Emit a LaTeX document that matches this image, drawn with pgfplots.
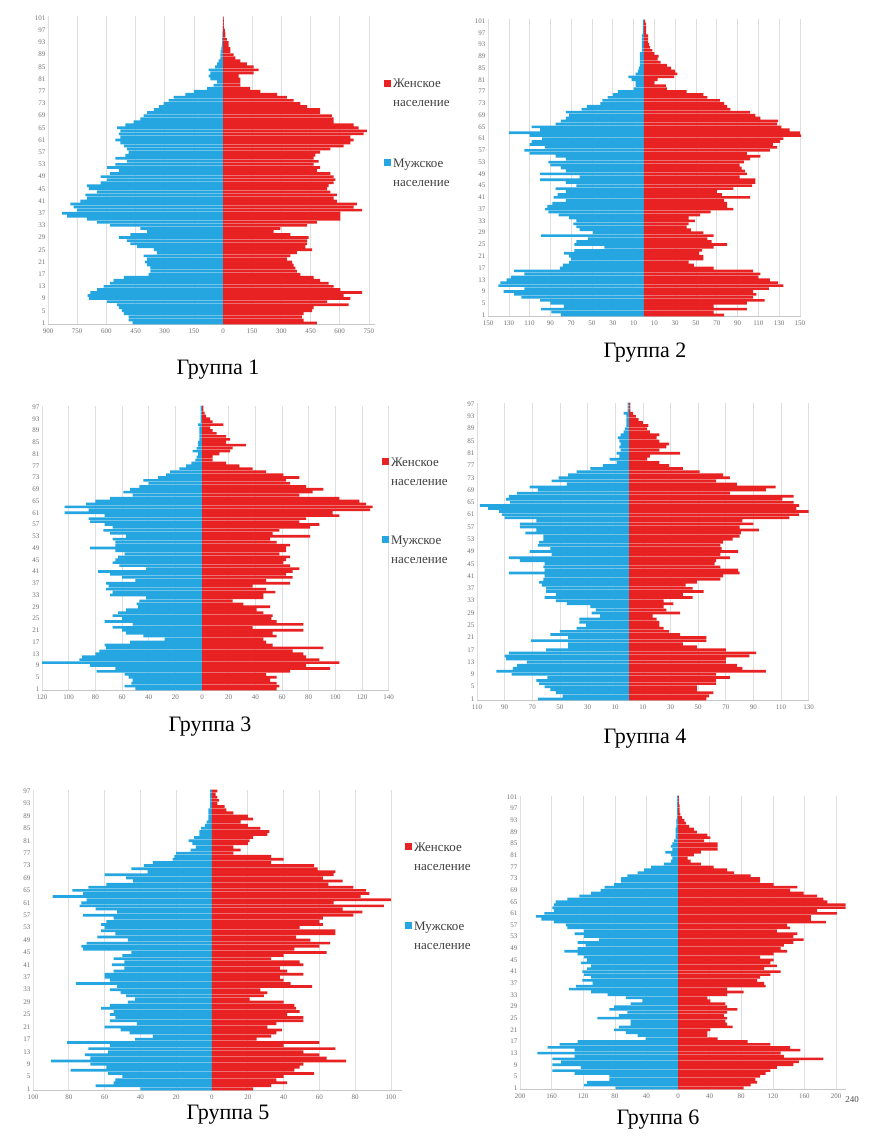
\documentclass[border=0pt]{standalone}
\usepackage{fontspec}
\setmainfont{Liberation Serif}
\usepackage{pgfplots}
\usepackage{pgfplotstable}
\pgfplotsset{compat=1.18}
\definecolor{mblue}{RGB}{38,166,224}
\definecolor{fred}{RGB}{232,34,34}

\pgfplotstableread{
age m f
1 465 483
2 485 415
3 485 406
4 510 415
5 520 458
6 535 466
7 545 646
8 596 535
9 690 655
10 696 620
11 682 715
12 648 603
13 614 569
14 580 543
15 562 500
16 510 466
17 382 398
18 374 380
19 374 372
20 390 363
21 400 355
22 390 329
23 408 346
24 340 380
25 356 458
26 442 423
27 476 432
28 494 432
29 536 440
30 476 346
31 390 260
32 425 295
33 580 432
34 648 483
35 700 603
36 802 603
37 828 603
38 750 715
39 768 672
40 785 689
41 734 586
42 700 569
43 708 586
44 648 552
45 690 535
46 700 543
47 630 569
48 596 578
49 630 569
50 580 552
51 536 483
52 596 500
53 554 466
54 494 492
55 554 466
56 502 475
57 485 500
58 494 552
59 510 620
60 528 655
61 554 672
62 528 655
63 536 723
64 528 740
65 545 698
66 502 672
67 460 569
68 425 569
69 408 560
70 390 500
71 356 500
72 330 432
73 305 398
74 280 363
75 254 329
76 194 278
77 150 192
78 82 140
79 48 89
80 30 89
81 65 89
82 74 80
83 65 158
84 74 183
85 40 158
86 30 123
87 22 89
88 14 63
89 14 55
90 12 38
91 8 38
92 6 29
93 5 29
94 4 20
95 3 12
96 3 12
97 2 10
98 2 6
99 1 5
100 1 4
101 1 3
}\gone

\pgfplotstableread{
age m f
1 80 77
2 89 67
3 99 99
4 77 67
5 90 99
6 100 116
7 118 105
8 125 108
9 135 105
10 115 120
11 140 134
12 138 129
13 132 121
14 128 110
15 115 112
16 125 105
17 81 67
18 78 48
19 72 43
20 70 57
21 72 57
22 77 53
23 67 56
24 38 67
25 67 80
26 65 65
27 54 61
28 99 67
29 49 57
30 62 45
31 65 41
32 68 43
33 65 49
34 72 43
35 82 54
36 92 64
37 95 86
38 93 80
39 88 80
40 75 77
41 87 102
42 83 75
43 75 70
44 85 86
45 65 104
46 75 107
47 100 107
48 62 92
49 100 99
50 75 97
51 80 94
52 90 92
53 92 96
54 75 102
55 85 112
56 110 99
57 115 121
58 95 128
59 110 124
60 108 131
61 98 134
62 110 152
63 130 150
64 100 140
65 108 132
66 85 128
67 80 129
68 75 112
69 72 107
70 75 102
71 60 83
72 55 80
73 42 77
74 40 73
75 35 61
76 30 57
77 25 41
78 10 22
79 8 21
80 8 10
81 12 13
82 15 29
83 8 32
84 6 30
85 5 26
86 4 22
87 4 16
88 4 13
89 4 14
90 4 10
91 2 8
92 2 6
93 2 5
94 2 4
95 2 4
96 2 4
97 1 2
98 1 2
99 1 2
100 1 2
101 1 1
}\gtwo

\pgfplotstableread{
age m f
1 50 56
2 58 58
3 53 56
4 52 51
5 55 56
6 58 48
7 79 66
8 65 96
9 84 78
10 120 103
11 92 88
12 90 78
13 80 76
14 77 68
15 72 91
16 73 53
17 54 48
18 28 46
19 44 56
20 57 53
21 60 76
22 67 38
23 52 76
24 73 56
25 60 52
26 67 53
27 63 46
28 57 41
29 48 51
30 49 31
31 47 23
32 42 46
33 69 46
34 67 55
35 72 48
36 70 38
37 72 66
38 50 48
39 60 68
40 69 63
41 78 68
42 42 73
43 62 66
44 67 61
45 65 63
46 63 66
47 58 58
48 65 63
49 84 63
50 65 66
51 65 56
52 67 51
53 57 81
54 69 53
55 74 58
56 67 81
57 73 88
58 84 73
59 85 78
60 73 103
61 103 98
62 85 126
63 103 128
64 87 123
65 80 118
66 69 103
67 52 73
68 59 83
69 54 91
70 47 78
71 40 66
72 44 63
73 33 73
74 27 61
75 24 48
76 17 38
77 12 28
78 8 18
79 5 8
80 4 8
81 3 13
82 7 21
83 4 23
84 3 33
85 3 18
86 2 21
87 2 18
88 2 11
89 2 8
90 2 6
91 3 16
92 1 8
93 1 6
94 1 3
95 1 2
96 1 1
97 1 1
}\gthree

\pgfplotstableread{
age m f
1 66 56
2 48 58
3 53 61
4 57 49
5 61 49
6 65 63
7 67 63
8 59 73
9 85 63
10 96 99
11 84 82
12 81 78
13 74 70
14 89 70
15 90 87
16 87 92
17 60 70
18 44 49
19 44 39
20 71 56
21 44 56
22 57 37
23 50 29
24 38 25
25 31 22
26 36 22
27 36 20
28 21 17
29 27 37
30 24 27
31 28 25
32 45 32
33 53 25
34 61 46
35 53 39
36 60 54
37 60 46
38 63 41
39 65 49
40 62 66
41 61 68
42 87 80
43 61 79
44 62 66
45 61 62
46 79 63
47 87 73
48 56 66
49 72 79
50 57 67
51 66 66
52 65 68
53 62 75
54 62 80
55 75 81
56 67 94
57 79 80
58 79 90
59 67 82
60 90 116
61 92 123
62 94 131
63 102 121
64 108 123
65 86 119
66 89 111
67 87 119
68 81 73
69 66 99
70 72 106
71 45 78
72 56 63
73 51 73
74 44 68
75 38 51
76 28 39
77 19 29
78 9 22
79 14 13
80 7 15
81 9 37
82 6 22
83 7 27
84 6 29
85 7 22
86 8 20
87 6 22
88 4 15
89 3 13
90 2 14
91 2 10
92 2 7
93 2 5
94 4 3
95 1 1
96 1 1
97 1 1
}\gfour

\pgfplotstableread{
age m f
1 40 23
2 65 33
3 55 42
4 54 36
5 50 40
6 58 57
7 79 46
8 59 49
9 68 51
10 90 75
11 68 64
12 71 60
13 58 51
14 69 69
15 57 40
16 81 60
17 43 25
18 33 33
19 46 36
20 51 39
21 60 31
22 42 36
23 57 51
24 54 51
25 57 42
26 55 49
27 62 47
28 57 46
29 47 40
30 43 21
31 48 29
32 51 31
33 57 27
34 53 56
35 76 44
36 57 40
37 60 38
38 60 51
39 55 42
40 49 38
41 56 51
42 49 49
43 55 33
44 50 40
45 45 64
46 72 46
47 73 60
48 70 66
49 47 55
50 64 47
51 54 69
52 62 69
53 60 49
54 62 62
55 59 60
56 55 62
57 72 79
58 53 84
59 65 73
60 74 96
61 73 68
62 70 100
63 89 83
64 72 88
65 78 86
66 69 79
67 59 65
68 44 73
69 48 62
70 60 68
71 36 69
72 45 59
73 38 57
74 33 33
75 22 40
76 21 33
77 20 12
78 12 16
79 9 12
80 11 20
81 13 21
82 10 23
83 7 31
84 7 32
85 6 27
86 4 20
87 3 16
88 2 23
89 2 20
90 2 12
91 2 8
92 1 7
93 1 3
94 1 4
95 1 3
96 1 2
97 1 3
}\gfive

\pgfplotstableread{
age m f
1 79 83
2 119 92
3 115 100
4 87 98
5 87 104
6 131 111
7 159 117
8 123 125
9 159 146
10 148 153
11 159 184
12 131 134
13 178 130
14 131 155
15 165 142
16 150 117
17 127 88
18 41 50
19 51 37
20 66 37
21 81 41
22 75 69
23 60 62
24 60 60
25 102 62
26 75 58
27 64 62
28 87 75
29 81 62
30 60 60
31 45 41
32 66 37
33 89 62
34 110 83
35 138 62
36 129 111
37 108 109
38 121 100
39 110 104
40 119 117
41 121 130
42 115 109
43 110 125
44 123 117
45 115 121
46 119 104
47 127 121
48 144 138
49 127 130
50 117 134
51 127 146
52 100 159
53 119 146
54 131 151
55 119 125
56 140 142
57 142 138
58 157 187
59 173 168
60 180 168
61 169 201
62 157 176
63 159 218
64 157 218
65 155 189
66 140 184
67 125 176
68 110 159
69 98 142
70 93 151
71 81 121
72 72 104
73 72 104
74 64 92
75 51 71
76 43 62
77 34 45
78 18 29
79 9 16
80 7 12
81 9 20
82 16 29
83 7 50
84 9 50
85 7 50
86 5 33
87 3 41
88 3 37
89 3 24
90 3 20
91 2 14
92 2 10
93 2 8
94 1 5
95 1 3
96 1 2
97 1 2
98 1 2
99 1 1
100 1 1
101 1 1
}\gsix

\pgfplotsset{
  pyr/.style={
    scale only axis, anchor=south west, enlargelimits=false,
    axis line style={-},
    axis x line*=bottom, axis y line*=left,
    y axis line style={draw=none},
    x axis line style={draw=black!22, line width=0.6pt},
    xmajorgrids, grid style={draw=black!13, line width=0.6pt},
    major tick length=0pt,
    tick label style={font=\fontsize{7}{8}\selectfont, text=black!55},
    /pgf/number format/assume math mode=true,
    yticklabel style={xshift=1pt},
    xticklabel style={yshift=-1pt},
  },
  mbar/.style={xbar, bar shift=0pt, bar width=0.88, fill=mblue, draw=none},
  fbar/.style={xbar, bar shift=0pt, bar width=0.88, fill=fred, draw=none},
}

\newcommand\legendat[2]{%
  \fill[fred] (#1pt,{-(#2+0)*1pt}) rectangle ({(#1+7)*1pt},{-(#2+7)*1pt});
  \node[anchor=base west, inner sep=0pt, font=\fontsize{13}{14}\selectfont, text=black!75] at ({(#1+9)*1pt},{-(#2+8)*1pt}) {Женское};
  \node[anchor=base west, inner sep=0pt, font=\fontsize{13}{14}\selectfont, text=black!75] at ({(#1+9)*1pt},{-(#2+27)*1pt}) {население};
}
\newcommand\legendbt[2]{%
  \fill[mblue] (#1pt,{-(#2+0)*1pt}) rectangle ({(#1+7)*1pt},{-(#2+7)*1pt});
  \node[anchor=base west, inner sep=0pt, font=\fontsize{13}{14}\selectfont, text=black!75] at ({(#1+9)*1pt},{-(#2+8)*1pt}) {Мужское};
  \node[anchor=base west, inner sep=0pt, font=\fontsize{13}{14}\selectfont, text=black!75] at ({(#1+9)*1pt},{-(#2+27)*1pt}) {население};
}

\begin{document}
\begin{tikzpicture}
\path[use as bounding box] (0,0) rectangle (873pt,-1137pt);
\fill[white] (0,0) rectangle (873pt,-1137pt);

% Group 1
\begin{axis}[pyr, at={(48pt,-324.5pt)}, width=326.7pt, height=308pt,
  xmin=-900, xmax=780, ymin=0.5, ymax=101.5,
  xtick={-900,-750,...,750},
  xticklabels={900,750,600,450,300,150,0,150,300,450,600,750},
  ytick={1,5,...,101}]
\addplot[mbar] table[x expr=-\thisrow{m}, y=age] {\gone};
\addplot[fbar] table[x=f, y=age] {\gone};
\end{axis}

% Group 2
\begin{axis}[pyr, at={(488pt,-316.5pt)}, width=313pt, height=297pt,
  xmin=-150, xmax=151, ymin=0.5, ymax=101.5,
  xtick={-150,-130,...,150},
  xticklabels={150,130,110,90,70,50,30,10,10,30,50,70,90,110,130,150},
  ytick={1,5,...,101}]
\addplot[mbar] table[x expr=-\thisrow{m}, y=age] {\gtwo};
\addplot[fbar] table[x=f, y=age] {\gtwo};
\end{axis}

% Group 3
\begin{axis}[pyr, at={(42pt,-690.5pt)}, width=346.7pt, height=285pt,
  xmin=-120, xmax=140, ymin=0.5, ymax=97.5,
  xtick={-120,-100,...,140},
  xticklabels={120,100,80,60,40,20,0,20,40,60,80,100,120,140},
  ytick={1,5,...,97}]
\addplot[mbar] table[x expr=-\thisrow{m}, y=age] {\gthree};
\addplot[fbar] table[x=f, y=age] {\gthree};
\end{axis}

% Group 4
\begin{axis}[pyr, at={(477pt,-700.5pt)}, width=331.7pt, height=298pt,
  xmin=-110, xmax=130, ymin=0.5, ymax=97.5,
  xtick={-110,-90,...,130},
  xticklabels={110,90,70,50,30,10,10,30,50,70,90,110,130},
  ytick={1,5,...,97}]
\addplot[mbar] table[x expr=-\thisrow{m}, y=age] {\gfour};
\addplot[fbar] table[x=f, y=age] {\gfour};
\end{axis}

% Group 5
\begin{axis}[pyr, at={(33pt,-1090.5pt)}, width=368.7pt, height=301pt,
  xmin=-100, xmax=106, ymin=0.5, ymax=97.5,
  xtick={-100,-80,...,100},
  xticklabels={100,80,60,40,20,0,20,40,60,80,100},
  ytick={1,5,...,97}]
\addplot[mbar] table[x expr=-\thisrow{m}, y=age] {\gfive};
\addplot[fbar] table[x=f, y=age] {\gfive};
\end{axis}

% Group 6
\begin{axis}[pyr, at={(520pt,-1089.5pt)}, width=325.5pt, height=294pt,
  xmin=-200, xmax=212, ymin=0.5, ymax=101.5,
  xtick={-200,-160,...,200},
  xticklabels={200,160,120,80,40,0,40,80,120,160,200},
  ytick={1,5,...,101}]
\addplot[mbar] table[x expr=-\thisrow{m}, y=age] {\gsix};
\addplot[fbar] table[x=f, y=age] {\gsix};
\end{axis}
\node[anchor=base, font=\fontsize{9}{10}\selectfont, text=black!70] at (852pt,-1102pt) {240};

% Legends
\legendat{384}{80}
\legendbt{384}{159}
\legendat{382}{458}
\legendbt{382}{536}
\legendat{405}{843}
\legendbt{405}{922}

% Captions
\begin{scope}[every node/.style={anchor=base, font=\fontsize{22}{24}\selectfont, inner sep=0pt}]
\node at (218pt,-374pt) {Группа 1};
\node at (645pt,-357pt) {Группа 2};
\node at (210pt,-731pt) {Группа 3};
\node at (645pt,-743pt) {Группа 4};
\node at (228pt,-1119pt) {Группа 5};
\node at (658pt,-1124pt) {Группа 6};
\end{scope}
\end{tikzpicture}
\end{document}
